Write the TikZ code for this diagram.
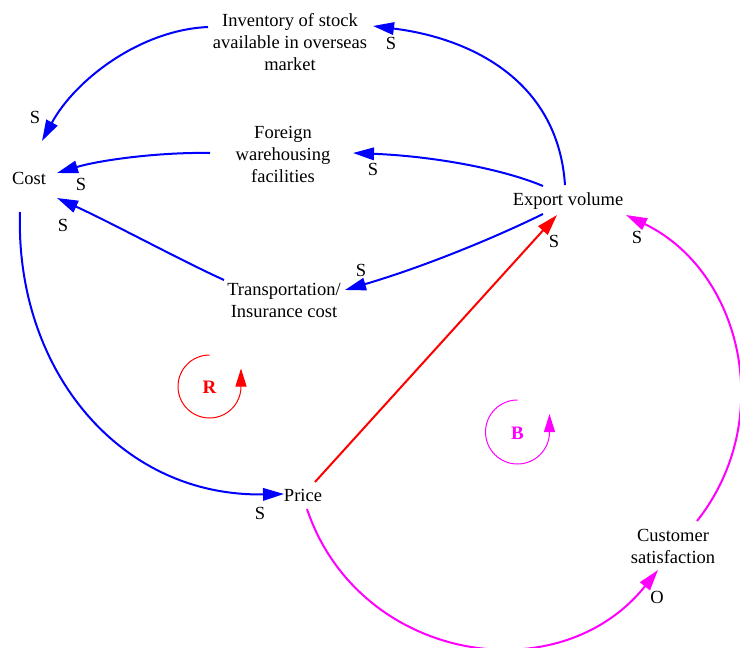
\documentclass[tikz,border=0pt]{standalone}
\usepackage{fontspec}
\setmainfont{Liberation Serif}
\usetikzlibrary{arrows.meta,calc}
\definecolor{linkblue}{RGB}{0,0,255}
\definecolor{linkred}{RGB}{255,0,0}
\definecolor{linkmag}{RGB}{255,0,255}
\begin{document}
\begin{tikzpicture}[x=1pt,y=-1pt,
  var/.style={align=center,inner sep=0pt,font=\fontsize{18.5}{22}\selectfont},
  pol/.style={inner sep=0pt,font=\fontsize{18.5}{22}\selectfont},
  link/.style={line width=2pt,-{Triangle[length=21pt,width=12.5pt]}},
  loopmark/.style={line width=1pt,-{Triangle[length=18pt,width=11pt]}},
  looplbl/.style={inner sep=0pt,font=\fontsize{19}{22}\selectfont\bfseries}]
\useasboundingbox[fill=white] (0,0) rectangle (740,648);

% variables
\node[var] (inv)   at (290,42)  {Inventory of stock\\available in overseas\\market};
\node[var] (fwh)   at (283,154) {Foreign\\warehousing\\facilities};
\node[var] (cost)  at (29,178)  {Cost};
\node[var] (exp)   at (568,201) {Export volume};
\node[var] (trans) at (284,300) {Transportation/\\Insurance cost};
\node[var] (price) at (303,495) {Price};
\node[var] (cs)    at (673,546) {Customer\\satisfaction};

% causal links
\draw[link,linkblue] ($(exp)+(-3,-16)$) .. controls (558,80) and (470,38) .. ($(inv)+(83,-16)$);
\draw[link,linkblue] ($(inv)+(-82,-15)$) .. controls (140,30) and (75,80) .. ($(cost)+(13,-37)$);
\draw[link,linkblue] ($(fwh)+(-73,-1)$) .. controls (160,152) and (100,160) .. ($(cost)+(28,-5)$);
\draw[link,linkblue] ($(exp)+(-25,-15)$) .. controls (500,168) and (430,156) .. ($(fwh)+(70,-1)$);
\draw[link,linkblue] ($(trans)+(-60,-20)$) .. controls (180,260) and (110,222) .. ($(cost)+(28,20)$);
\draw[link,linkblue] ($(exp)+(-25,13)$) .. controls (490,240) and (420,268) .. ($(trans)+(61,-10)$);
\draw[link,linkblue] ($(cost)+(-9,34)$) .. controls (15,370) and (120,497) .. ($(price)+(-19,-1)$);
\draw[link,linkred]  ($(price)+(12,-13)$) -- ($(exp)+(-11,14)$);
\draw[link,linkmag]  ($(price)+(4,14)$) .. controls (358,661) and (558,695) .. ($(cs)+(-15,24)$);
\draw[link,linkmag]  ($(cs)+(24,-25)$) .. controls (777,420) and (742,271) .. ($(exp)+(58,14)$);

% link polarities
\node[pol] (p1)  at (35,117)  {S};
\node[pol] (p2)  at (391,43)  {S};
\node[pol] (p3)  at (81,184)  {S};
\node[pol] (p4)  at (373,169) {S};
\node[pol] (p5)  at (63,225)  {S};
\node[pol] (p6)  at (361,270) {S};
\node[pol] (p7)  at (554,241) {S};
\node[pol] (p8)  at (637,237) {S};
\node[pol] (p9)  at (260,513) {S};
\node[pol] (p10) at (657,597) {O};

% loop markers
\draw[loopmark,linkred] (209.5,355) arc (270:0:31.5) -- ++(0,-18);
\node[looplbl,text=linkred] (rloop) at (209.5,387) {R};
\draw[loopmark,linkmag] (517.5,400) arc (270:0:32) -- ++(0,-18);
\node[looplbl,text=linkmag] (bloop) at (517.5,433) {B};
\end{tikzpicture}
\end{document}
